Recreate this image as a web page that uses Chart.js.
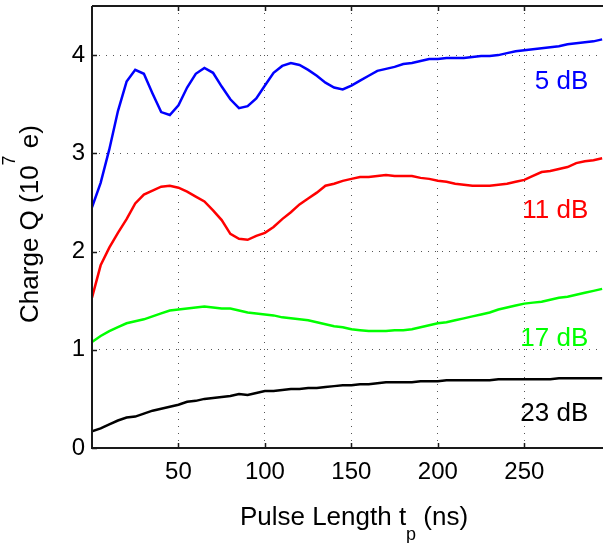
<!DOCTYPE html>
<html>
<head>
<meta charset="utf-8">
<script src="https://cdn.jsdelivr.net/npm/chart.js@4.4.1/dist/chart.umd.min.js"></script>
<style>
  html, body { margin: 0; padding: 0; background: #fff; }
  #wrap { width: 603px; height: 543px; }
</style>
</head>
<body>
<div id="wrap"><canvas id="myChart" width="603" height="543"></canvas></div>
<script>
(() => {
  'use strict'

  // pulse length in ns
  const pulseLength = [0, 5, 10, 15, 20, 25, 30, 35, 40, 45, 50, 55, 60, 65, 70, 75, 80, 85, 90, 95,
    100, 105, 110, 115, 120, 125, 130, 135, 140, 145, 150, 155, 160, 165, 170, 175, 180, 185, 190, 195,
    200, 205, 210, 215, 220, 225, 230, 235, 240, 245, 250, 255, 260, 265, 270, 275, 280, 285, 290, 295]

  // charge in 1e7 e, one array per attenuation
  const q5dB = [2.45, 2.70, 3.04, 3.43, 3.73, 3.85, 3.81, 3.61, 3.42, 3.39, 3.49, 3.67, 3.81, 3.87, 3.82,
    3.68, 3.55, 3.46, 3.48, 3.56, 3.69, 3.82, 3.89, 3.92, 3.90, 3.85, 3.79, 3.72, 3.67, 3.65,
    3.69, 3.74, 3.79, 3.84, 3.86, 3.88, 3.91, 3.92, 3.94, 3.96, 3.96, 3.97, 3.97, 3.97, 3.98,
    3.99, 3.99, 4.00, 4.02, 4.04, 4.05, 4.06, 4.07, 4.08, 4.09, 4.11, 4.12, 4.13, 4.14, 4.16]
  const q11dB = [1.53, 1.86, 2.04, 2.19, 2.33, 2.49, 2.58, 2.62, 2.66, 2.67, 2.65, 2.61, 2.56, 2.51, 2.42,
    2.32, 2.18, 2.13, 2.12, 2.16, 2.19, 2.25, 2.33, 2.40, 2.48, 2.54, 2.60, 2.67, 2.69, 2.72,
    2.74, 2.76, 2.76, 2.77, 2.78, 2.77, 2.77, 2.77, 2.75, 2.74, 2.72, 2.71, 2.69, 2.68, 2.67,
    2.67, 2.67, 2.68, 2.69, 2.71, 2.73, 2.77, 2.81, 2.82, 2.84, 2.86, 2.90, 2.92, 2.93, 2.95]
  const q17dB = [1.08, 1.14, 1.19, 1.23, 1.27, 1.29, 1.31, 1.34, 1.37, 1.40, 1.41, 1.42, 1.43, 1.44, 1.43,
    1.42, 1.42, 1.40, 1.38, 1.37, 1.36, 1.35, 1.33, 1.32, 1.31, 1.30, 1.28, 1.26, 1.24, 1.23,
    1.21, 1.20, 1.19, 1.19, 1.19, 1.20, 1.20, 1.21, 1.23, 1.25, 1.27, 1.28, 1.30, 1.32, 1.34,
    1.36, 1.38, 1.41, 1.43, 1.45, 1.47, 1.48, 1.49, 1.51, 1.53, 1.54, 1.56, 1.58, 1.60, 1.62]
  const q23dB = [0.17, 0.20, 0.24, 0.28, 0.31, 0.32, 0.35, 0.38, 0.40, 0.42, 0.44, 0.47, 0.48, 0.50, 0.51,
    0.52, 0.53, 0.55, 0.54, 0.56, 0.58, 0.58, 0.59, 0.60, 0.60, 0.61, 0.61, 0.62, 0.63, 0.64,
    0.64, 0.65, 0.65, 0.66, 0.67, 0.67, 0.67, 0.67, 0.68, 0.68, 0.68, 0.69, 0.69, 0.69, 0.69,
    0.69, 0.69, 0.70, 0.70, 0.70, 0.70, 0.70, 0.70, 0.70, 0.71, 0.71, 0.71, 0.71, 0.71, 0.71]

  const seriesNames = ['5 dB', '11 dB', '17 dB', '23 dB']
  const xTicks = [50, 100, 150, 200, 250]
  const yTicks = [0, 1, 2, 3, 4]

  const colors = ['#0000ff', '#ff0000', '#00ff00', '#000000']
  const FONT = '"Liberation Sans", Arial, Helvetica, sans-serif'

  // where each curve name sits (right edge, in data units)
  const nameX = 287
  const nameY = [3.73, 2.41, 1.11, 0.35]

  const pts = (ys) => pulseLength.map((t, i) => ({ x: t, y: ys[i] }))

  // box, inward ticks, curve names and axis titles with sub/superscripts
  const decorations = {
    id: 'decorations',
    afterDraw(chart) {
      const c = chart.ctx
      const a = chart.chartArea
      const xs = chart.scales.x
      const ys = chart.scales.y
      c.save()

      c.strokeStyle = '#1a1a1a'
      c.lineWidth = 2
      c.beginPath()
      c.moveTo(a.left, a.top)
      c.lineTo(a.left, a.bottom)
      c.lineTo(a.right, a.bottom)
      c.moveTo(a.left, a.top)
      c.lineTo(a.right, a.top)
      c.stroke()

      c.lineWidth = 1.5
      c.beginPath()
      xTicks.forEach(v => {
        const px = Math.round(xs.getPixelForValue(v)) + 0.5
        c.moveTo(px, a.bottom); c.lineTo(px, a.bottom - 5)
        c.moveTo(px, a.top); c.lineTo(px, a.top + 5)
      })
      yTicks.forEach(v => {
        const py = Math.round(ys.getPixelForValue(v)) + 0.5
        c.moveTo(a.left, py); c.lineTo(a.left + 5, py)
      })
      c.stroke()

      c.font = '26px ' + FONT
      c.textAlign = 'right'
      c.textBaseline = 'middle'
      seriesNames.forEach((name, i) => {
        c.fillStyle = colors[i]
        c.fillText(name, xs.getPixelForValue(nameX), ys.getPixelForValue(nameY[i]))
      })

      c.fillStyle = '#000'
      c.textAlign = 'left'
      c.textBaseline = 'alphabetic'

      // x title: Pulse Length t_p (ns)
      const big = '26px ' + FONT
      const small = '18px ' + FONT
      const xParts = [['Pulse Length t', big, 0], ['p', small, 15], [' (ns)', big, 0]]
      drawParts(c, xParts, 354, 525)

      // y title: Charge Q (10^7 e), rotated
      c.save()
      c.translate(38, 224)
      c.rotate(-Math.PI / 2)
      const yParts = [['Charge Q (10', big, 0], ['7', small, -23], [' e)', big, 0]]
      drawParts(c, yParts, 0, 0)
      c.restore()

      c.restore()
    }
  }

  function drawParts(c, parts, cx, baseY) {
    let total = 0
    parts.forEach(p => { c.font = p[1]; total += c.measureText(p[0]).width })
    let x = cx - total / 2
    parts.forEach(p => {
      c.font = p[1]
      c.fillText(p[0], x, baseY + p[2])
      x += c.measureText(p[0]).width
    })
  }

  const ctx = document.getElementById('myChart')
  // eslint-disable-next-line no-unused-vars
  const myChart = new Chart(ctx, {
    type: 'line',
    data: {
      datasets: [q5dB, q11dB, q17dB, q23dB].map((ys, i) => ({
        label: seriesNames[i],
        data: pts(ys),
        borderColor: colors[i],
        backgroundColor: 'transparent',
        borderWidth: 2.5,
        pointRadius: 0,
        tension: 0
      }))
    },
    options: {
      responsive: false,
      animation: false,
      layout: { padding: { top: 6, right: 0, left: 0, bottom: 0 } },
      plugins: {
        legend: { display: false },
        tooltip: { enabled: false }
      },
      scales: {
        x: {
          type: 'linear',
          min: 0,
          max: 295.5,
          afterBuildTicks: (s) => { s.ticks = xTicks.map(v => ({ value: v })) },
          afterFit: (s) => {
            s.height = 95
            s.paddingLeft = 0
            s.paddingRight = 0
          },
          grid: { color: '#555', lineWidth: 1, drawTicks: false },
          border: { display: false, dash: [1, 6] },
          ticks: {
            color: '#000',
            padding: 10,
            maxRotation: 0,
            font: { family: FONT, size: 24 }
          }
        },
        y: {
          min: 0,
          max: 4.5,
          afterBuildTicks: (s) => { s.ticks = yTicks.map(v => ({ value: v })) },
          afterFit: (s) => {
            s.width = 92
            s.paddingTop = 0
            s.paddingBottom = 0
          },
          grid: { color: '#555', lineWidth: 1, drawTicks: false },
          border: { display: false, dash: [1, 6] },
          ticks: {
            color: '#000',
            padding: 7,
            font: { family: FONT, size: 24 }
          }
        }
      }
    },
    plugins: [decorations]
  })
})()
</script>
</body>
</html>
